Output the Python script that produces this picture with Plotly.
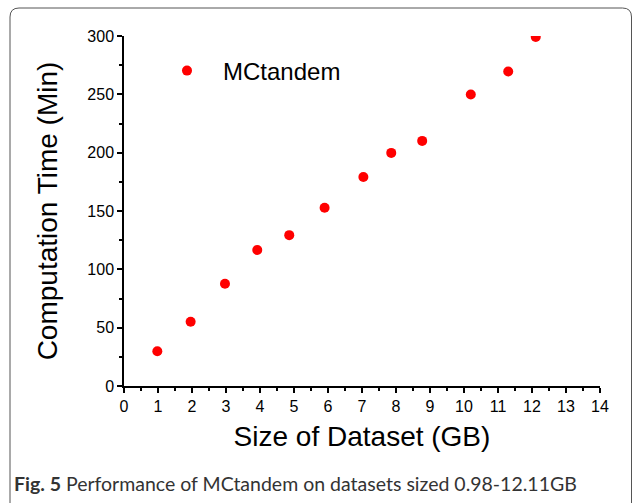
import plotly.graph_objects as go

# Data
dataset_size_gb = [0.98, 1.96, 2.97, 3.92, 4.86, 5.90, 7.04, 7.86, 8.77, 10.20, 11.30, 12.11]
computation_min = [29.8, 55.0, 87.7, 116.6, 129.3, 152.8, 179.1, 199.8, 210.1, 249.9, 269.6, 299.2]
series_name = "MCtandem"
x_title = "Size of Dataset (GB)"
y_title = "Computation Time (Min)"
caption_bold = "Fig. 5"
caption_text = "Performance of MCtandem on datasets sized 0.98-12.11GB"

W, H = 633, 503
L, R, T, B = 124, 33, 36, 117
PW, PH = W - L - R, H - T - B

def px(x):
    return (x - L) / PW

def py(y):
    return (H - B - y) / PH

AX_FONT = "Liberation Sans, Arial, Helvetica, sans-serif"

fig = go.Figure()
fig.add_trace(go.Scatter(
    x=dataset_size_gb, y=computation_min, mode="markers", name=series_name,
    marker=dict(color="#ff0000", size=10, line=dict(width=0)),
))

axis_common = dict(
    showline=True, linecolor="black", linewidth=1.5, mirror=False,
    ticks="outside", ticklen=5, tickwidth=1.5, tickcolor="black",
    showgrid=False, zeroline=False,
    tickfont=dict(family=AX_FONT, size=16, color="black"),
)

fig.update_xaxes(
    range=[0, 14], dtick=1, tick0=0,
    minor=dict(dtick=0.5, ticks="outside", ticklen=3, tickwidth=1.5, tickcolor="black", showgrid=False),
    title=dict(text=x_title, font=dict(family=AX_FONT, size=28, color="black"), standoff=12),
    **axis_common,
)
fig.update_yaxes(
    range=[0, 300], dtick=50, tick0=0,
    minor=dict(dtick=25, ticks="outside", ticklen=3, tickwidth=1.5, tickcolor="black", showgrid=False),
    title=dict(text=y_title, font=dict(family=AX_FONT, size=28, color="black"), standoff=22),
    **axis_common,
)

# Rounded frame around figure
x0, y0, x1, y1, rr = 10, 8, 631.5, 520, 9
path = (f"M {px(x0+rr)},{py(y0)} L {px(x1-rr)},{py(y0)} Q {px(x1)},{py(y0)} {px(x1)},{py(y0+rr)} "
        f"L {px(x1)},{py(y1)} L {px(x0)},{py(y1)} L {px(x0)},{py(y0+rr)} Q {px(x0)},{py(y0)} {px(x0+rr)},{py(y0)}")
fig.add_shape(type="path", xref="paper", yref="paper", path=path,
              line=dict(color="#555555", width=1), layer="below")

fig.add_annotation(
    xref="paper", yref="paper", x=px(12), y=py(483), xanchor="left", yanchor="middle",
    text=f"<b>{caption_bold}</b> {caption_text}", showarrow=False,
    font=dict(family="Lato, Open Sans, sans-serif", size=19.5, color="#333333"),
)

fig.update_layout(
    width=W, height=H,
    margin=dict(l=L, r=R, t=T, b=B),
    paper_bgcolor="white", plot_bgcolor="white",
    showlegend=True,
    legend=dict(x=px(151), y=py(71), xanchor="left", yanchor="middle",
                font=dict(family=AX_FONT, size=24, color="black"),
                bgcolor="rgba(0,0,0,0)", itemwidth=62),
)

fig.write_html("out.html")
